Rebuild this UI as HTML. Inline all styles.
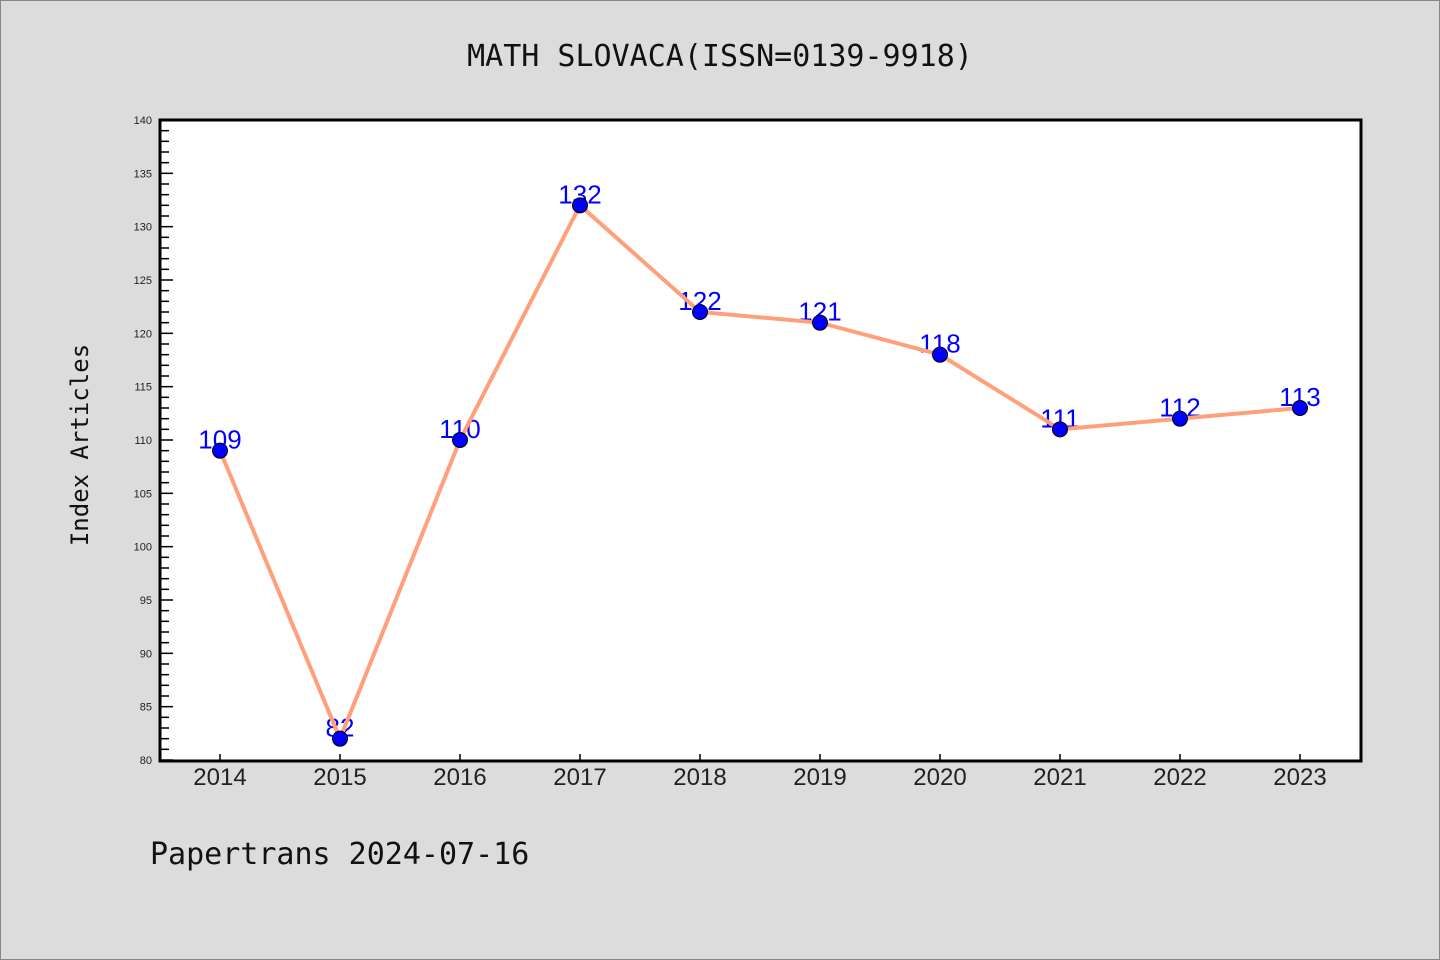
<!DOCTYPE html>
<html><head><meta charset="utf-8"><style>
body{margin:0;background:#dcdcdc;}
svg{display:block;font-family:"Liberation Sans","DejaVu Sans",sans-serif;}
</style></head><body>
<svg width="1440" height="960">
<rect x="0.5" y="0.5" width="1439" height="959" fill="#dcdcdc" stroke="#888"/>
<text x="720" y="66" text-anchor="middle" font-family="DejaVu Sans Mono, Liberation Mono, monospace" font-size="30" fill="#111">MATH SLOVACA(ISSN=0139-9918)</text>
<rect x="160" y="120" width="1201" height="641" fill="#fff"/>
<g id="yaxis"></g>
<g id="xaxis"></g>
<g id="labels"></g>
<g id="series"></g>
<rect x="160" y="120" width="1201" height="641" fill="none" stroke="#000" stroke-width="3"/>
<text transform="translate(88,445) rotate(-90)" text-anchor="middle" font-family="DejaVu Sans Mono, Liberation Mono, monospace" font-size="24" fill="#111">Index Articles</text>
<text x="150" y="864" font-family="DejaVu Sans Mono, Liberation Mono, monospace" font-size="30" fill="#111">Papertrans 2024-07-16</text>
</svg>
<script>
const years=["2014","2015","2016","2017","2018","2019","2020","2021","2022","2023"];
const values=[109,82,110,132,122,121,118,111,112,113];
const yTicks=[80,85,90,95,100,105,110,115,120,125,130,135,140];
const NS="http://www.w3.org/2000/svg";
const yMin=80,yMax=140,plotTop=120,plotBot=760;
function yS(v){return plotBot-(v-yMin)/(yMax-yMin)*(plotBot-plotTop);}
function xS(i){return 220+i*120;}
function mk(t,a,p){const e=document.createElementNS(NS,t);for(const k in a)e.setAttribute(k,a[k]);p.appendChild(e);return e;}
const ya=document.getElementById('yaxis');
for(let v=yMin;v<=yMax;v++){
  const major=v%5===0;
  const l=mk('line',{x1:160,x2:major?173:169,y1:yS(v),y2:yS(v),stroke:'#000','stroke-width':1.5},ya);
  
  
}
yTicks.forEach(v=>{
  const t=mk('text',{x:152,y:yS(v)+4,'text-anchor':'end','font-size':11,fill:'#222'},ya);
  t.textContent=v;
  
  
});
const xa=document.getElementById('xaxis');
years.forEach((yr,i)=>{
  const l=mk('line',{x1:xS(i),x2:xS(i),y1:760,y2:754,stroke:'#000','stroke-width':1.5},xa);
  
  
  const t=mk('text',{x:xS(i),y:785,'text-anchor':'middle','font-size':24,fill:'#222'},xa);
  t.textContent=yr;
  
  
});
const lb=document.getElementById('labels');
values.forEach((v,i)=>{
  const t=mk('text',{x:xS(i),y:yS(v)-2,'text-anchor':'middle','font-size':26,fill:'#0000ff'},lb);
  t.textContent=v;
  
  
});
const s=document.getElementById('series');
const pl=mk('polyline',{points:values.map((v,i)=>xS(i)+','+yS(v)).join(' '),fill:'none',stroke:'#ffa07a','stroke-width':4},s);


values.forEach((v,i)=>{
  const c=mk('circle',{cx:xS(i),cy:yS(v),r:7.5,fill:'#0000ff',stroke:'#000','stroke-width':1},s);
  
  
});
</script>
</body></html>
